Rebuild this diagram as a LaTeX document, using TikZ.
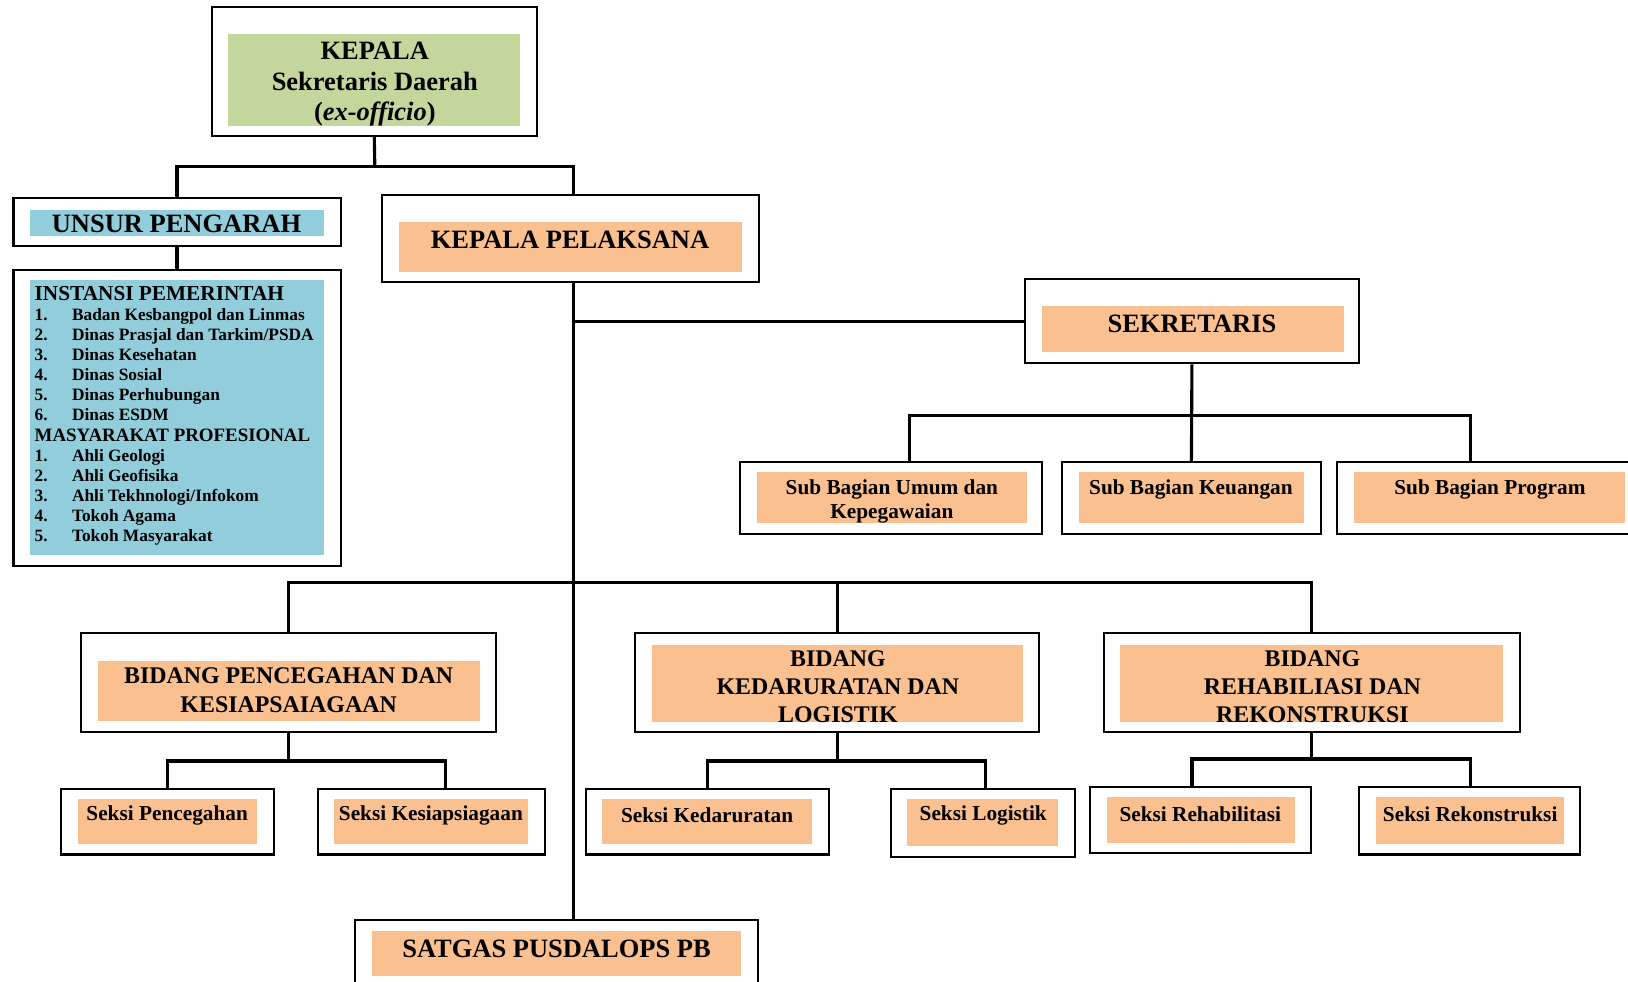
\documentclass[tikz,border=0pt]{standalone}
\usepackage{fontspec}
\setmainfont{Liberation Serif}
\usetikzlibrary{fit}
\definecolor{kgreen}{RGB}{195,214,155}
\definecolor{kblue}{RGB}{146,205,220}
\definecolor{korange}{RGB}{250,192,143}
\newcommand\itm[1]{\makebox[18pt][l]{#1}}
\begin{document}
\begin{tikzpicture}[x=0.5pt,y=-0.5pt,
  outerbox/.style={draw, line width=1pt, inner sep=0pt},
  innerbox/.style={draw=none, inner sep=0pt},
  conn/.style={line width=1.5pt, line join=miter},
  hfont/.style={font=\fontsize{12.75}{14.5}\selectfont\bfseries},
  bfont/.style={font=\fontsize{11.5}{13.5}\selectfont\bfseries},
  sfont/.style={font=\fontsize{10.25}{12}\selectfont\bfseries},
  lbl/.style={align=center, inner sep=0pt}]
\useasboundingbox (0,0) rectangle (1568,945);
\fill[white] (0,0) rectangle (1568,945);

% ---------- boxes ----------
% KEPALA
\node[outerbox, fit={(204,7) (517,131)}] (kep) {};
\node[innerbox, fill=kgreen, fit={(220,33) (501,121)}] (kepin) {};
\node[lbl, hfont] (kept) at (361,81) {KEPALA\\Sekretaris Daerah\\(\textit{ex-officio})};

% UNSUR PENGARAH
\node[outerbox, fit={(13,191) (328,237)}] (up) {};
\node[innerbox, fill=kblue, fit={(29,202) (312,227)}] (upin) {};
\node[lbl, hfont] (upt) at (170,216) {UNSUR PENGARAH};

% list
\node[outerbox, fit={(13,260) (328,545)}] (list) {};
\node[innerbox, fill=kblue, fit={(29,270) (312,535)}] (listin) {};
\node[anchor=north west, align=left, inner sep=0pt,
      font=\fontsize{8.35}{9.7}\selectfont\bfseries] (listt) at (33,275)
{{\fontsize{10.25}{11}\selectfont INSTANSI PEMERINTAH}\\
\itm{1.}Badan Kesbangpol dan Linmas\\
\itm{2.}Dinas Prasjal dan Tarkim/PSDA\\
\itm{3.}Dinas Kesehatan\\
\itm{4.}Dinas Sosial\\
\itm{5.}Dinas Perhubungan\\
\itm{6.}Dinas ESDM\\
{\fontsize{9.1}{10}\selectfont MASYARAKAT PROFESIONAL}\\
\itm{1.}Ahli Geologi\\
\itm{2.}Ahli Geofisika\\
\itm{3.}Ahli Tekhnologi/Infokom\\
\itm{4.}Tokoh Agama\\
\itm{5.}Tokoh Masyarakat};

% KEPALA PELAKSANA
\node[outerbox, fit={(368,188) (731,272)}] (pel) {};
\node[innerbox, fill=korange, fit={(384,214) (715,262)}] (pelin) {};
\node[lbl, hfont] (pelt) at (549,231) {KEPALA PELAKSANA};

% SEKRETARIS
\node[outerbox, fit={(987,269) (1309,350)}] (sek) {};
\node[innerbox, fill=korange, fit={(1004,295) (1294,339)}] (sekin) {};
\node[lbl, hfont] (sekt) at (1148,312) {SEKRETARIS};

% Sub Bagian
\node[outerbox, fit={(713,445) (1004,514)}] (sb1) {};
\node[innerbox, fill=korange, fit={(729,455) (989,504)}] (sb1in) {};
\node[lbl, sfont] (sb1t) at (859,483) {Sub Bagian Umum dan\\Kepegawaian};

\node[outerbox, fit={(1023,445) (1272,514)}] (sb2) {};
\node[innerbox, fill=korange, fit={(1039,455) (1256,504)}] (sb2in) {};
\node[lbl, sfont] (sb2t) at (1147,471) {Sub Bagian Keuangan};

\node[outerbox, fit={(1288,445) (1640,514)}] (sb3) {};
\node[innerbox, fill=korange, fit={(1304,455) (1565,504)}] (sb3in) {};
\node[lbl, sfont] (sb3t) at (1435,471) {Sub Bagian Program};

% Bidang
\node[outerbox, fit={(78,610) (478,705)}] (bd1) {};
\node[innerbox, fill=korange, fit={(94,637) (462,694)}] (bd1in) {};
\node[lbl, font=\fontsize{11.5}{14}\selectfont\bfseries] (bd1t) at (278,665) {BIDANG PENCEGAHAN DAN\\KESIAPSAIAGAAN};

\node[outerbox, fit={(612,610) (1001,705)}] (bd2) {};
\node[innerbox, fill=korange, fit={(628,621) (985,695)}] (bd2in) {};
\node[lbl, bfont] (bd2t) at (807,661) {BIDANG\\KEDARURATAN DAN\\LOGISTIK};

\node[outerbox, fit={(1063,610) (1464,705)}] (bd3) {};
\node[innerbox, fill=korange, fit={(1079,621) (1448,695)}] (bd3in) {};
\node[lbl, bfont] (bd3t) at (1264,661) {BIDANG\\REHABILIASI DAN\\REKONSTRUKSI};

% Seksi
\node[outerbox, fit={(59,760) (264,823)}] (sk1) {};
\node[innerbox, fill=korange, fit={(75,770) (248,813)}] (sk1in) {};
\node[lbl, sfont] (sk1t) at (161,785) {Seksi Pencegahan};

\node[outerbox, fit={(306,760) (525,823)}] (sk2) {};
\node[innerbox, fill=korange, fit={(322,770) (509,813)}] (sk2in) {};
\node[lbl, sfont] (sk2t) at (415,785) {Seksi Kesiapsiagaan};

\node[outerbox, fit={(564,760) (798,823)}] (sk3) {};
\node[innerbox, fill=korange, fit={(580,770) (782,813)}] (sk3in) {};
\node[lbl, sfont] (sk3t) at (681,785) {Seksi Kedaruratan};

\node[outerbox, fit={(858,760) (1035,825)}] (sk4) {};
\node[innerbox, fill=korange, fit={(874,770) (1019,815)}] (sk4in) {};
\node[lbl, sfont] (sk4t) at (947,785) {Seksi Logistik};

\node[outerbox, fit={(1050,758) (1263,822)}] (sk5) {};
\node[innerbox, fill=korange, fit={(1066,768) (1247,812)}] (sk5in) {};
\node[lbl, sfont] (sk5t) at (1156,784) {Seksi Rehabilitasi};

\node[outerbox, fit={(1309,758) (1522,823)}] (sk6) {};
\node[innerbox, fill=korange, fit={(1325,768) (1506,813)}] (sk6in) {};
\node[lbl, sfont] (sk6t) at (1416,784) {Seksi Rekonstruksi};

% SATGAS
\node[outerbox, fit={(342,886) (730,970)}] (sat) {};
\node[innerbox, fill=korange, fit={(358,897) (714,940)}] (satin) {};
\node[lbl, hfont] (satt) at (536,914) {SATGAS PUSDALOPS PB};

% ---------- connectors ----------
\coordinate (s) at (552,0);
\coordinate (j0) at (361,160);
\draw[conn] (kep.south) -- (j0);
\draw[conn] (up.north) |- (j0 -| s) -- (pel.north -| s);
\draw[conn] (up.south) -- (list.north);
\draw[conn] (pel.south -| s) -- (sat.north -| s);
\draw[conn] (sek.west -| s) -- (sek.west);

\coordinate (c1) at (876,400);
\coordinate (c3) at (1416,400);
\draw[conn] (sek.south) -- (sb2.north);
\draw[conn] (c1 |- sb1.north) -- (c1) -- (c3) -- (c3 |- sb3.north);

\coordinate (h2) at (0,561);
\draw[conn] (bd1.north) |- (h2 -| bd3.north) -- (bd3.north);
\draw[conn] (bd2.north) -- (bd2.north |- h2);

\coordinate (a1) at (161,733);
\coordinate (a2) at (429,733);
\draw[conn] (bd1.south) -- (bd1.south |- a1);
\draw[conn] (a1 |- sk1.north) -- (a1) -- (a2) -- (a2 |- sk2.north);

\coordinate (b1) at (681,733);
\coordinate (b2) at (949,733);
\draw[conn] (bd2.south) -- (bd2.south |- b1);
\draw[conn] (b1 |- sk3.north) -- (b1) -- (b2) -- (b2 |- sk4.north);

\coordinate (d1) at (1148,731);
\coordinate (d2) at (1416,731);
\draw[conn] (bd3.south) -- (bd3.south |- d1);
\draw[conn] (d1 |- sk5.north) -- (d1) -- (d2) -- (d2 |- sk6.north);
\end{tikzpicture}
\end{document}
